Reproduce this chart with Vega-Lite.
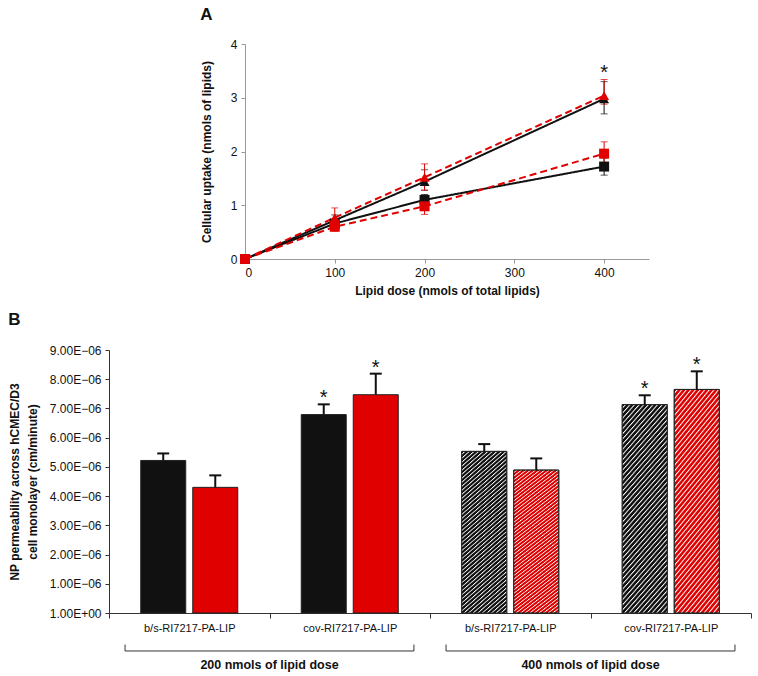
{
  "$schema": "https://vega.github.io/schema/vega-lite/v6.json",
  "padding": {"left": 8, "top": 6, "right": 5, "bottom": 5},
  "background": "white",
  "config": {
    "font": "Liberation Sans",
    "view": {"stroke": null},
    "axis": {"grid": false, "labelColor": "#111", "titleColor": "#111"},
    "title": {"color": "#111"}
  },
  "datasets": {
    "uptake": [
      {"series": "black square", "group": "black", "marker": "square", "dose": 0, "mean": 0, "lo": 0, "hi": 0, "sig": ""},
      {"series": "black square", "group": "black", "marker": "square", "dose": 100, "mean": 0.66, "lo": 0.6, "hi": 0.72, "sig": ""},
      {"series": "black square", "group": "black", "marker": "square", "dose": 200, "mean": 1.1, "lo": 1.0, "hi": 1.2, "sig": ""},
      {"series": "black square", "group": "black", "marker": "square", "dose": 400, "mean": 1.72, "lo": 1.56, "hi": 1.88, "sig": ""},
      {"series": "black triangle", "group": "black", "marker": "triangle", "dose": 0, "mean": 0, "lo": 0, "hi": 0, "sig": ""},
      {"series": "black triangle", "group": "black", "marker": "triangle", "dose": 100, "mean": 0.72, "lo": 0.62, "hi": 0.82, "sig": ""},
      {"series": "black triangle", "group": "black", "marker": "triangle", "dose": 200, "mean": 1.44, "lo": 1.28, "hi": 1.66, "sig": ""},
      {"series": "black triangle", "group": "black", "marker": "triangle", "dose": 400, "mean": 2.98, "lo": 2.7, "hi": 3.3, "sig": ""},
      {"series": "red square", "group": "red", "marker": "square", "dose": 0, "mean": 0, "lo": 0, "hi": 0, "sig": ""},
      {"series": "red square", "group": "red", "marker": "square", "dose": 100, "mean": 0.6, "lo": 0.52, "hi": 0.68, "sig": ""},
      {"series": "red square", "group": "red", "marker": "square", "dose": 200, "mean": 0.98, "lo": 0.83, "hi": 1.14, "sig": ""},
      {"series": "red square", "group": "red", "marker": "square", "dose": 400, "mean": 1.96, "lo": 1.74, "hi": 2.18, "sig": ""},
      {"series": "red triangle", "group": "red", "marker": "triangle", "dose": 0, "mean": 0, "lo": 0, "hi": 0, "sig": ""},
      {"series": "red triangle", "group": "red", "marker": "triangle", "dose": 100, "mean": 0.77, "lo": 0.6, "hi": 0.95, "sig": ""},
      {"series": "red triangle", "group": "red", "marker": "triangle", "dose": 200, "mean": 1.52, "lo": 1.28, "hi": 1.77, "sig": ""},
      {"series": "red triangle", "group": "red", "marker": "triangle", "dose": 400, "mean": 3.04, "lo": 2.88, "hi": 3.34, "sig": "*"}
    ],
    "perm": [
      {"key": "200|b/s-RI7217-PA-LIP", "color": "black", "hatch": "no", "value": 0.00000522, "upper": 0.00000546, "sig": ""},
      {"key": "200|b/s-RI7217-PA-LIP", "color": "red", "hatch": "no", "value": 0.0000043, "upper": 0.00000471, "sig": ""},
      {"key": "200|cov-RI7217-PA-LIP", "color": "black", "hatch": "no", "value": 0.00000679, "upper": 0.00000714, "sig": "*"},
      {"key": "200|cov-RI7217-PA-LIP", "color": "red", "hatch": "no", "value": 0.00000747, "upper": 0.00000819, "sig": "*"},
      {"key": "400|b/s-RI7217-PA-LIP", "color": "black", "hatch": "yes", "value": 0.00000553, "upper": 0.00000578, "sig": ""},
      {"key": "400|b/s-RI7217-PA-LIP", "color": "red", "hatch": "yes", "value": 0.00000489, "upper": 0.00000529, "sig": ""},
      {"key": "400|cov-RI7217-PA-LIP", "color": "black", "hatch": "yes", "value": 0.00000713, "upper": 0.00000745, "sig": "*"},
      {"key": "400|cov-RI7217-PA-LIP", "color": "red", "hatch": "yes", "value": 0.00000765, "upper": 0.00000827, "sig": "*"}
    ],
    "brackets": [
      {"label": "200 nmols of lipid dose", "start": 0.1, "end": 1.9, "mid": 1.0},
      {"label": "400 nmols of lipid dose", "start": 2.1, "end": 3.9, "mid": 3.0}
    ]
  },
  "spacing": 15,
  "vconcat": [
    {
      "spacing": 0,
      "hconcat": [
        {
          "width": 91, "height": 215,
          "data": {"values": []},
          "mark": {"type": "point", "opacity": 0},
          "encoding": {}
        },
        {
          "width": 404, "height": 215,
          "title": {"text": "A", "anchor": "start", "frame": "bounds", "fontSize": 17, "fontWeight": "bold", "offset": 14},
          "data": {"name": "uptake"},
          "encoding": {
            "x": {"field": "dose", "type": "quantitative", "scale": {"domain": [0, 450], "nice": false},
                  "axis": {"values": [0, 100, 200, 300, 400], "format": "d", "title": "Lipid dose (nmols of total lipids)", "titleFontSize": 12, "titleFontWeight": "bold", "labelFontSize": 12, "tickSize": 4, "labelPadding": 4, "titlePadding": 7, "domainColor": "#999", "tickColor": "#999"}}
          },
          "layer": [
            {
              "mark": {"type": "line", "strokeWidth": 2},
              "encoding": {
                "y": {"field": "mean", "type": "quantitative", "scale": {"domain": [0, 4], "nice": false}, "title": "Cellular uptake (nmols of lipids)",
                      "axis": {"values": [0, 1, 2, 3, 4], "format": "d", "titleFontSize": 12, "titleFontWeight": "bold", "labelFontSize": 12, "tickSize": 4, "labelPadding": 4, "titlePadding": 17, "domainColor": "#999", "tickColor": "#999"}},
                "color": {"field": "group", "type": "nominal", "scale": {"domain": ["black", "red"], "range": ["#111111", "#e00000"]}, "legend": null},
                "strokeDash": {"field": "group", "type": "nominal", "scale": {"domain": ["black", "red"], "range": [[1, 0], [7, 4]]}, "legend": null},
                "detail": {"field": "series", "type": "nominal"}
              }
            },
            {
              "mark": {"type": "errorbar", "ticks": {"size": 7}, "thickness": 1},
              "encoding": {
                "y": {"field": "lo", "type": "quantitative", "scale": {"domain": [0, 4], "nice": false}, "title": "Cellular uptake (nmols of lipids)",
                      "axis": {"values": [0, 1, 2, 3, 4], "format": "d", "titleFontSize": 12, "titleFontWeight": "bold", "labelFontSize": 12, "tickSize": 4, "labelPadding": 4, "titlePadding": 17, "domainColor": "#999", "tickColor": "#999"}},
                "y2": {"field": "hi"},
                "color": {"field": "group", "type": "nominal", "scale": {"domain": ["black", "red"], "range": ["#111111", "#e00000"]}, "legend": null}
              }
            },
            {
              "mark": {"type": "point", "filled": true, "opacity": 1, "size": 100},
              "encoding": {
                "y": {"field": "mean", "type": "quantitative", "scale": {"domain": [0, 4], "nice": false}, "title": "Cellular uptake (nmols of lipids)",
                      "axis": {"values": [0, 1, 2, 3, 4], "format": "d", "titleFontSize": 12, "titleFontWeight": "bold", "labelFontSize": 12, "tickSize": 4, "labelPadding": 4, "titlePadding": 17, "domainColor": "#999", "tickColor": "#999"}},
                "color": {"field": "group", "type": "nominal", "scale": {"domain": ["black", "red"], "range": ["#111111", "#e00000"]}, "legend": null},
                "shape": {"field": "marker", "type": "nominal", "scale": {"domain": ["square", "triangle"], "range": ["square", "triangle-up"]}, "legend": null}
              }
            },
            {
              "transform": [{"filter": "datum.sig == '*'"}],
              "mark": {"type": "text", "fontSize": 20, "dy": -6, "baseline": "middle", "color": "#111"},
              "encoding": {
                "y": {"field": "hi", "type": "quantitative", "scale": {"domain": [0, 4], "nice": false}, "title": "Cellular uptake (nmols of lipids)",
                      "axis": {"values": [0, 1, 2, 3, 4], "format": "d", "titleFontSize": 12, "titleFontWeight": "bold", "labelFontSize": 12, "tickSize": 4, "labelPadding": 4, "titlePadding": 17, "domainColor": "#999", "tickColor": "#999"}},
                "text": {"field": "sig"}
              }
            }
          ]
        }
      ]
    },
    {
      "width": 642, "height": 263,
      "title": {"text": "B", "anchor": "start", "frame": "bounds", "fontSize": 17, "fontWeight": "bold", "offset": 15},
      "resolve": {"scale": {"x": "independent"}},
      "layer": [
        {
          "data": {"name": "perm"},
          "encoding": {
            "x": {"field": "key", "type": "nominal",
                  "scale": {"domain": ["200|b/s-RI7217-PA-LIP", "200|cov-RI7217-PA-LIP", "400|b/s-RI7217-PA-LIP", "400|cov-RI7217-PA-LIP"], "paddingInner": 0, "paddingOuter": 0},
                  "axis": {"title": null, "labelExpr": "split(datum.label, '|')[1]", "labelAngle": 0, "labelFontSize": 11, "tickBand": "extent", "tickSize": 5, "labelPadding": 4, "domainColor": "#333", "tickColor": "#333"}},
            "xOffset": {"field": "color", "type": "nominal", "scale": {"domain": ["black", "red"], "paddingInner": 0.135, "paddingOuter": 0.61}}
          },
          "layer": [
            {
              "mark": {"type": "bar", "stroke": "#222", "strokeWidth": 1},
              "encoding": {
                "y": {"field": "value", "type": "quantitative", "scale": {"domain": [0, 0.000009], "nice": false},
                      "title": ["NP permeability across hCMEC/D3", "cell monolayer (cm/minute)"],
                      "axis": {"values": [0, 0.000001, 0.000002, 0.000003, 0.000004, 0.000005, 0.000006, 0.000007, 0.000008, 0.000009], "labelExpr": "datum.value == 0 ? '1.00E+00' : format(datum.value * 1000000, '.2f') + 'E\u221206'", "titleFontSize": 12, "titleFontWeight": "bold", "titleLineHeight": 18, "labelFontSize": 12, "tickSize": 4, "labelPadding": 4, "titlePadding": 10, "domainColor": "#333", "tickColor": "#333"}},
                "color": {"field": "color", "type": "nominal", "scale": {"domain": ["black", "red"], "range": ["#111111", "#d40000"]}, "legend": null}
              }
            },
            {
              "transform": [{"filter": "datum.hatch == 'yes'"}],
              "mark": {"type": "bar", "stroke": "#222", "strokeWidth": 1,
                "fill": {"gradient": "linear", "x1": 0, "y1": 0, "x2": 0.2855, "y2": 1.1738, "stops": [
{"offset":0,"color":"rgba(255,255,255,0)"},{"offset":0.009,"color":"rgba(255,255,255,0)"},{"offset":0.013,"color":"#fff"},
{"offset":0.02,"color":"rgba(255,255,255,0)"},{"offset":0.029,"color":"rgba(255,255,255,0)"},{"offset":0.033,"color":"#fff"},
{"offset":0.04,"color":"rgba(255,255,255,0)"},{"offset":0.049,"color":"rgba(255,255,255,0)"},{"offset":0.053,"color":"#fff"},
{"offset":0.06,"color":"rgba(255,255,255,0)"},{"offset":0.069,"color":"rgba(255,255,255,0)"},{"offset":0.073,"color":"#fff"},
{"offset":0.08,"color":"rgba(255,255,255,0)"},{"offset":0.089,"color":"rgba(255,255,255,0)"},{"offset":0.093,"color":"#fff"},
{"offset":0.1,"color":"rgba(255,255,255,0)"},{"offset":0.109,"color":"rgba(255,255,255,0)"},{"offset":0.113,"color":"#fff"},
{"offset":0.12,"color":"rgba(255,255,255,0)"},{"offset":0.129,"color":"rgba(255,255,255,0)"},{"offset":0.133,"color":"#fff"},
{"offset":0.14,"color":"rgba(255,255,255,0)"},{"offset":0.149,"color":"rgba(255,255,255,0)"},{"offset":0.153,"color":"#fff"},
{"offset":0.16,"color":"rgba(255,255,255,0)"},{"offset":0.169,"color":"rgba(255,255,255,0)"},{"offset":0.173,"color":"#fff"},
{"offset":0.18,"color":"rgba(255,255,255,0)"},{"offset":0.189,"color":"rgba(255,255,255,0)"},{"offset":0.193,"color":"#fff"},
{"offset":0.2,"color":"rgba(255,255,255,0)"},{"offset":0.209,"color":"rgba(255,255,255,0)"},{"offset":0.213,"color":"#fff"},
{"offset":0.22,"color":"rgba(255,255,255,0)"},{"offset":0.229,"color":"rgba(255,255,255,0)"},{"offset":0.233,"color":"#fff"},
{"offset":0.24,"color":"rgba(255,255,255,0)"},{"offset":0.249,"color":"rgba(255,255,255,0)"},{"offset":0.253,"color":"#fff"},
{"offset":0.26,"color":"rgba(255,255,255,0)"},{"offset":0.269,"color":"rgba(255,255,255,0)"},{"offset":0.273,"color":"#fff"},
{"offset":0.28,"color":"rgba(255,255,255,0)"},{"offset":0.289,"color":"rgba(255,255,255,0)"},{"offset":0.293,"color":"#fff"},
{"offset":0.3,"color":"rgba(255,255,255,0)"},{"offset":0.309,"color":"rgba(255,255,255,0)"},{"offset":0.313,"color":"#fff"},
{"offset":0.32,"color":"rgba(255,255,255,0)"},{"offset":0.329,"color":"rgba(255,255,255,0)"},{"offset":0.333,"color":"#fff"},
{"offset":0.34,"color":"rgba(255,255,255,0)"},{"offset":0.349,"color":"rgba(255,255,255,0)"},{"offset":0.353,"color":"#fff"},
{"offset":0.36,"color":"rgba(255,255,255,0)"},{"offset":0.369,"color":"rgba(255,255,255,0)"},{"offset":0.373,"color":"#fff"},
{"offset":0.38,"color":"rgba(255,255,255,0)"},{"offset":0.389,"color":"rgba(255,255,255,0)"},{"offset":0.393,"color":"#fff"},
{"offset":0.4,"color":"rgba(255,255,255,0)"},{"offset":0.409,"color":"rgba(255,255,255,0)"},{"offset":0.413,"color":"#fff"},
{"offset":0.42,"color":"rgba(255,255,255,0)"},{"offset":0.429,"color":"rgba(255,255,255,0)"},{"offset":0.433,"color":"#fff"},
{"offset":0.44,"color":"rgba(255,255,255,0)"},{"offset":0.449,"color":"rgba(255,255,255,0)"},{"offset":0.453,"color":"#fff"},
{"offset":0.46,"color":"rgba(255,255,255,0)"},{"offset":0.469,"color":"rgba(255,255,255,0)"},{"offset":0.473,"color":"#fff"},
{"offset":0.48,"color":"rgba(255,255,255,0)"},{"offset":0.489,"color":"rgba(255,255,255,0)"},{"offset":0.493,"color":"#fff"},
{"offset":0.5,"color":"rgba(255,255,255,0)"},{"offset":0.509,"color":"rgba(255,255,255,0)"},{"offset":0.513,"color":"#fff"},
{"offset":0.52,"color":"rgba(255,255,255,0)"},{"offset":0.529,"color":"rgba(255,255,255,0)"},{"offset":0.533,"color":"#fff"},
{"offset":0.54,"color":"rgba(255,255,255,0)"},{"offset":0.549,"color":"rgba(255,255,255,0)"},{"offset":0.553,"color":"#fff"},
{"offset":0.56,"color":"rgba(255,255,255,0)"},{"offset":0.569,"color":"rgba(255,255,255,0)"},{"offset":0.573,"color":"#fff"},
{"offset":0.58,"color":"rgba(255,255,255,0)"},{"offset":0.589,"color":"rgba(255,255,255,0)"},{"offset":0.593,"color":"#fff"},
{"offset":0.6,"color":"rgba(255,255,255,0)"},{"offset":0.609,"color":"rgba(255,255,255,0)"},{"offset":0.613,"color":"#fff"},
{"offset":0.62,"color":"rgba(255,255,255,0)"},{"offset":0.629,"color":"rgba(255,255,255,0)"},{"offset":0.633,"color":"#fff"},
{"offset":0.64,"color":"rgba(255,255,255,0)"},{"offset":0.649,"color":"rgba(255,255,255,0)"},{"offset":0.653,"color":"#fff"},
{"offset":0.66,"color":"rgba(255,255,255,0)"},{"offset":0.669,"color":"rgba(255,255,255,0)"},{"offset":0.673,"color":"#fff"},
{"offset":0.68,"color":"rgba(255,255,255,0)"},{"offset":0.689,"color":"rgba(255,255,255,0)"},{"offset":0.693,"color":"#fff"},
{"offset":0.7,"color":"rgba(255,255,255,0)"},{"offset":0.709,"color":"rgba(255,255,255,0)"},{"offset":0.713,"color":"#fff"},
{"offset":0.72,"color":"rgba(255,255,255,0)"},{"offset":0.729,"color":"rgba(255,255,255,0)"},{"offset":0.733,"color":"#fff"},
{"offset":0.74,"color":"rgba(255,255,255,0)"},{"offset":0.749,"color":"rgba(255,255,255,0)"},{"offset":0.753,"color":"#fff"},
{"offset":0.76,"color":"rgba(255,255,255,0)"},{"offset":0.769,"color":"rgba(255,255,255,0)"},{"offset":0.773,"color":"#fff"},
{"offset":0.78,"color":"rgba(255,255,255,0)"},{"offset":0.789,"color":"rgba(255,255,255,0)"},{"offset":0.793,"color":"#fff"},
{"offset":0.8,"color":"rgba(255,255,255,0)"},{"offset":0.809,"color":"rgba(255,255,255,0)"},{"offset":0.813,"color":"#fff"},
{"offset":0.82,"color":"rgba(255,255,255,0)"},{"offset":0.829,"color":"rgba(255,255,255,0)"},{"offset":0.833,"color":"#fff"},
{"offset":0.84,"color":"rgba(255,255,255,0)"},{"offset":0.849,"color":"rgba(255,255,255,0)"},{"offset":0.853,"color":"#fff"},
{"offset":0.86,"color":"rgba(255,255,255,0)"},{"offset":0.869,"color":"rgba(255,255,255,0)"},{"offset":0.873,"color":"#fff"},
{"offset":0.88,"color":"rgba(255,255,255,0)"},{"offset":0.889,"color":"rgba(255,255,255,0)"},{"offset":0.893,"color":"#fff"},
{"offset":0.9,"color":"rgba(255,255,255,0)"},{"offset":0.909,"color":"rgba(255,255,255,0)"},{"offset":0.913,"color":"#fff"},
{"offset":0.92,"color":"rgba(255,255,255,0)"},{"offset":0.929,"color":"rgba(255,255,255,0)"},{"offset":0.933,"color":"#fff"},
{"offset":0.94,"color":"rgba(255,255,255,0)"},{"offset":0.949,"color":"rgba(255,255,255,0)"},{"offset":0.953,"color":"#fff"},
{"offset":0.96,"color":"rgba(255,255,255,0)"},{"offset":0.969,"color":"rgba(255,255,255,0)"},{"offset":0.973,"color":"#fff"},
{"offset":0.98,"color":"rgba(255,255,255,0)"},{"offset":0.989,"color":"rgba(255,255,255,0)"},{"offset":0.993,"color":"#fff"},
{"offset":1,"color":"rgba(255,255,255,0)"}
                ]}},
              "encoding": {
                "y": {"field": "value", "type": "quantitative", "scale": {"domain": [0, 0.000009], "nice": false}, "title": ["NP permeability across hCMEC/D3", "cell monolayer (cm/minute)"],
                      "axis": {"values": [0, 0.000001, 0.000002, 0.000003, 0.000004, 0.000005, 0.000006, 0.000007, 0.000008, 0.000009], "labelExpr": "datum.value == 0 ? '1.00E+00' : format(datum.value * 1000000, '.2f') + 'E\u221206'", "titleFontSize": 12, "titleFontWeight": "bold", "titleLineHeight": 18, "labelFontSize": 12, "tickSize": 4, "labelPadding": 4, "titlePadding": 10, "domainColor": "#333", "tickColor": "#333"}}
              }
            },
            {
              "mark": {"type": "rule", "strokeWidth": 2, "color": "#111"},
              "encoding": {
                "y": {"field": "value", "type": "quantitative", "scale": {"domain": [0, 0.000009], "nice": false}, "title": ["NP permeability across hCMEC/D3", "cell monolayer (cm/minute)"],
                      "axis": {"values": [0, 0.000001, 0.000002, 0.000003, 0.000004, 0.000005, 0.000006, 0.000007, 0.000008, 0.000009], "labelExpr": "datum.value == 0 ? '1.00E+00' : format(datum.value * 1000000, '.2f') + 'E\u221206'", "titleFontSize": 12, "titleFontWeight": "bold", "titleLineHeight": 18, "labelFontSize": 12, "tickSize": 4, "labelPadding": 4, "titlePadding": 10, "domainColor": "#333", "tickColor": "#333"}},
                "y2": {"field": "upper"}
              }
            },
            {
              "mark": {"type": "tick", "size": 12, "thickness": 2, "color": "#111", "opacity": 1},
              "encoding": {
                "y": {"field": "upper", "type": "quantitative", "scale": {"domain": [0, 0.000009], "nice": false}, "title": ["NP permeability across hCMEC/D3", "cell monolayer (cm/minute)"],
                      "axis": {"values": [0, 0.000001, 0.000002, 0.000003, 0.000004, 0.000005, 0.000006, 0.000007, 0.000008, 0.000009], "labelExpr": "datum.value == 0 ? '1.00E+00' : format(datum.value * 1000000, '.2f') + 'E\u221206'", "titleFontSize": 12, "titleFontWeight": "bold", "titleLineHeight": 18, "labelFontSize": 12, "tickSize": 4, "labelPadding": 4, "titlePadding": 10, "domainColor": "#333", "tickColor": "#333"}}
              }
            },
            {
              "transform": [{"filter": "datum.sig == '*'"}],
              "mark": {"type": "text", "fontSize": 20, "dy": -6, "baseline": "middle", "color": "#111"},
              "encoding": {
                "y": {"field": "upper", "type": "quantitative", "scale": {"domain": [0, 0.000009], "nice": false}, "title": ["NP permeability across hCMEC/D3", "cell monolayer (cm/minute)"],
                      "axis": {"values": [0, 0.000001, 0.000002, 0.000003, 0.000004, 0.000005, 0.000006, 0.000007, 0.000008, 0.000009], "labelExpr": "datum.value == 0 ? '1.00E+00' : format(datum.value * 1000000, '.2f') + 'E\u221206'", "titleFontSize": 12, "titleFontWeight": "bold", "titleLineHeight": 18, "labelFontSize": 12, "tickSize": 4, "labelPadding": 4, "titlePadding": 10, "domainColor": "#333", "tickColor": "#333"}},
                "text": {"field": "sig"}
              }
            }
          ]
        },
        {
          "data": {"name": "brackets"},
          "layer": [
            {
              "mark": {"type": "rule", "color": "#333", "strokeWidth": 1},
              "encoding": {
                "x": {"field": "start", "type": "quantitative", "scale": {"domain": [0, 4], "nice": false, "zero": false}, "axis": null},
                "x2": {"field": "end"},
                "y": {"datum": -0.0000013, "type": "quantitative", "scale": {"domain": [0, 0.000009], "nice": false}, "title": ["NP permeability across hCMEC/D3", "cell monolayer (cm/minute)"],
                      "axis": {"values": [0, 0.000001, 0.000002, 0.000003, 0.000004, 0.000005, 0.000006, 0.000007, 0.000008, 0.000009], "labelExpr": "datum.value == 0 ? '1.00E+00' : format(datum.value * 1000000, '.2f') + 'E\u221206'", "titleFontSize": 12, "titleFontWeight": "bold", "titleLineHeight": 18, "labelFontSize": 12, "tickSize": 4, "labelPadding": 4, "titlePadding": 10, "domainColor": "#333", "tickColor": "#333"}}
              }
            },
            {
              "mark": {"type": "rule", "color": "#333", "strokeWidth": 1},
              "encoding": {
                "x": {"field": "start", "type": "quantitative", "scale": {"domain": [0, 4], "nice": false, "zero": false}, "axis": null},
                "y": {"datum": -0.00000108, "type": "quantitative", "scale": {"domain": [0, 0.000009], "nice": false}, "title": ["NP permeability across hCMEC/D3", "cell monolayer (cm/minute)"],
                      "axis": {"values": [0, 0.000001, 0.000002, 0.000003, 0.000004, 0.000005, 0.000006, 0.000007, 0.000008, 0.000009], "labelExpr": "datum.value == 0 ? '1.00E+00' : format(datum.value * 1000000, '.2f') + 'E\u221206'", "titleFontSize": 12, "titleFontWeight": "bold", "titleLineHeight": 18, "labelFontSize": 12, "tickSize": 4, "labelPadding": 4, "titlePadding": 10, "domainColor": "#333", "tickColor": "#333"}},
                "y2": {"datum": -0.0000013}
              }
            },
            {
              "mark": {"type": "rule", "color": "#333", "strokeWidth": 1},
              "encoding": {
                "x": {"field": "end", "type": "quantitative", "scale": {"domain": [0, 4], "nice": false, "zero": false}, "axis": null},
                "y": {"datum": -0.00000108, "type": "quantitative", "scale": {"domain": [0, 0.000009], "nice": false}, "title": ["NP permeability across hCMEC/D3", "cell monolayer (cm/minute)"],
                      "axis": {"values": [0, 0.000001, 0.000002, 0.000003, 0.000004, 0.000005, 0.000006, 0.000007, 0.000008, 0.000009], "labelExpr": "datum.value == 0 ? '1.00E+00' : format(datum.value * 1000000, '.2f') + 'E\u221206'", "titleFontSize": 12, "titleFontWeight": "bold", "titleLineHeight": 18, "labelFontSize": 12, "tickSize": 4, "labelPadding": 4, "titlePadding": 10, "domainColor": "#333", "tickColor": "#333"}},
                "y2": {"datum": -0.0000013}
              }
            },
            {
              "mark": {"type": "text", "fontSize": 12.5, "fontWeight": "bold", "baseline": "middle", "color": "#111"},
              "encoding": {
                "x": {"field": "mid", "type": "quantitative", "scale": {"domain": [0, 4], "nice": false, "zero": false}, "axis": null},
                "y": {"datum": -0.00000178, "type": "quantitative", "scale": {"domain": [0, 0.000009], "nice": false}, "title": ["NP permeability across hCMEC/D3", "cell monolayer (cm/minute)"],
                      "axis": {"values": [0, 0.000001, 0.000002, 0.000003, 0.000004, 0.000005, 0.000006, 0.000007, 0.000008, 0.000009], "labelExpr": "datum.value == 0 ? '1.00E+00' : format(datum.value * 1000000, '.2f') + 'E\u221206'", "titleFontSize": 12, "titleFontWeight": "bold", "titleLineHeight": 18, "labelFontSize": 12, "tickSize": 4, "labelPadding": 4, "titlePadding": 10, "domainColor": "#333", "tickColor": "#333"}},
                "text": {"field": "label"}
              }
            }
          ]
        }
      ]
    }
  ]
}
